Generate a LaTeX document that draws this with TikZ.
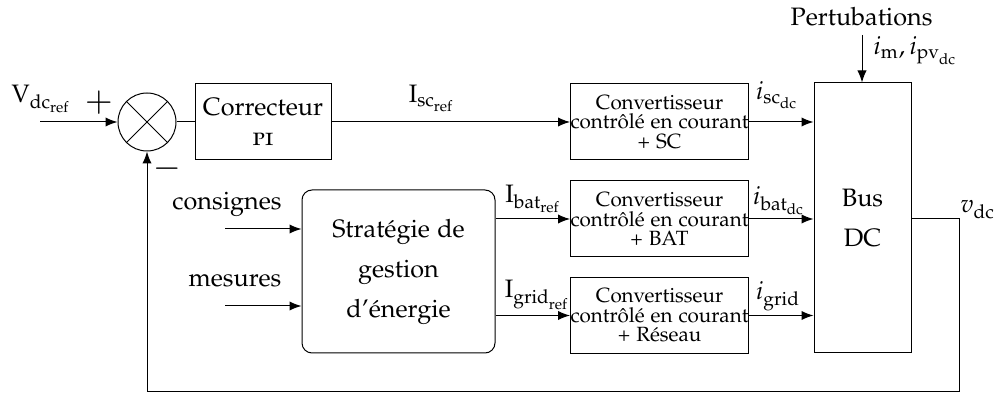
\documentclass[tikz,border=0pt]{standalone}
\usepackage[T1]{fontenc}
\usepackage[sc]{mathpazo}
\usetikzlibrary{arrows.meta,positioning,calc}
\newcommand{\mainsize}{\fontsize{12.6}{20}\selectfont}
\newcommand{\convsize}{\fontsize{10.3}{9.75}\selectfont}
\newcommand{\signsize}{\fontsize{17}{17}\selectfont}

\begin{document}
\begin{tikzpicture}[x=0.5pt, y=-0.5pt, line width=0.5pt, font=\mainsize,
  block/.style={draw, rectangle, inner sep=0pt, align=center},
  convblock/.style={block, minimum width=87.5pt, minimum height=38pt, font=\convsize},
  sig/.style={-{Latex[length=6pt,width=4.6pt]}},
  lbl/.style={inner sep=0pt, anchor=base}]
\useasboundingbox (0,0) rectangle (1000,394);
% summing junction and PI corrector
\node[draw, circle, minimum size=29pt, inner sep=0pt] (sum) at (147,122) {};
\draw (sum.north west) -- (sum.south east) (sum.north east) -- (sum.south west);
\node[block, minimum width=68pt, minimum height=38pt, font=\fontsize{12.6}{15}\selectfont] (pi) at (263,122) {Correcteur\\\textsc{pi}};
% current controlled converters
\node[convblock] (convsc) at (659.5,122) {Convertisseur\\contr\^ol\'e en courant\\+ SC};
\node[convblock] (convbat) at (659.5,219) {Convertisseur\\contr\^ol\'e en courant\\+ BAT};
\node[convblock] (convgrid) at (659.5,315.5) {Convertisseur\\contr\^ol\'e en courant\\+ R\'eseau};
% DC bus and energy management
\node[block, minimum width=48.5pt, minimum height=135pt] (bus) at (862.5,218) {Bus\\DC};
\node[block, rounded corners=5pt, minimum width=96.5pt, minimum height=81.5pt] (strat) at (398.5,271.5) {Strat\'egie de\\gestion\\d'\'energie};
% free ends of the signals
\coordinate (vin) at (40,122);
\coordinate (pert) at (862,35);
\coordinate (cons) at (225,229);
\coordinate (mes) at (225,306);
\coordinate (vout) at (959,219);
\coordinate (fbk) at (959,392);
% signals
\draw[sig] (vin) -- (sum.west);
\draw (sum.east) -- (pi.west);
\draw[sig] (pi.east) -- (convsc.west);
\draw[sig] (convsc.east) -- (convsc.east -| bus.west);
\draw[sig] (convbat.east) -- (convbat.east -| bus.west);
\draw[sig] (convgrid.east) -- (convgrid.east -| bus.west);
\draw[sig] (strat.east |- convbat.west) -- (convbat.west);
\draw[sig] (strat.east |- convgrid.west) -- (convgrid.west);
\draw[sig] (cons) -- (cons -| strat.west);
\draw[sig] (mes) -- (mes -| strat.west);
\draw[sig] (pert) -- (pert |- bus.north);
\draw[sig] (bus.east |- vout) -- (vout) -- (fbk) -| (sum.south);
% labels
\node[lbl] (lvref) at (41,103) {$\mathrm{V}_{\mathrm{dc}_{\mathrm{ref}}}$};
\node[inner sep=0pt, font=\signsize] (lplus) at (99,103) {$+$};
\node[inner sep=0pt, font=\signsize] (lminus) at (167,169) {$-$};
\node[lbl] (liscref) at (431.5,103) {$\mathrm{I}_{\mathrm{sc}_{\mathrm{ref}}}$};
\node[lbl] (libatref) at (533,203) {$\mathrm{I}_{\mathrm{bat}_{\mathrm{ref}}}$};
\node[lbl] (ligridref) at (537,298) {$\mathrm{I}_{\mathrm{grid}_{\mathrm{ref}}}$};
\node[lbl] (liscdc) at (777,100) {$i_{\mathrm{sc}_{\mathrm{dc}}}$};
\node[lbl] (libatdc) at (779,205) {$i_{\mathrm{bat}_{\mathrm{dc}}}$};
\node[lbl] (ligrid) at (778,300) {$i_{\mathrm{grid}}$};
\node[lbl] (lpert) at (861.5,26) {Pertubations};
\node[lbl, anchor=base west] (lim) at (873,55) {$i_{\mathrm{m}}, i_{\mathrm{pv}_{\mathrm{dc}}}$};
\node[lbl, anchor=base west] (lvdc) at (960,213) {$v_{\mathrm{dc}}$};
\node[lbl] (lcons) at (227,210) {consignes};
\node[lbl] (lmes) at (235,287) {mesures};
\end{tikzpicture}
\end{document}
